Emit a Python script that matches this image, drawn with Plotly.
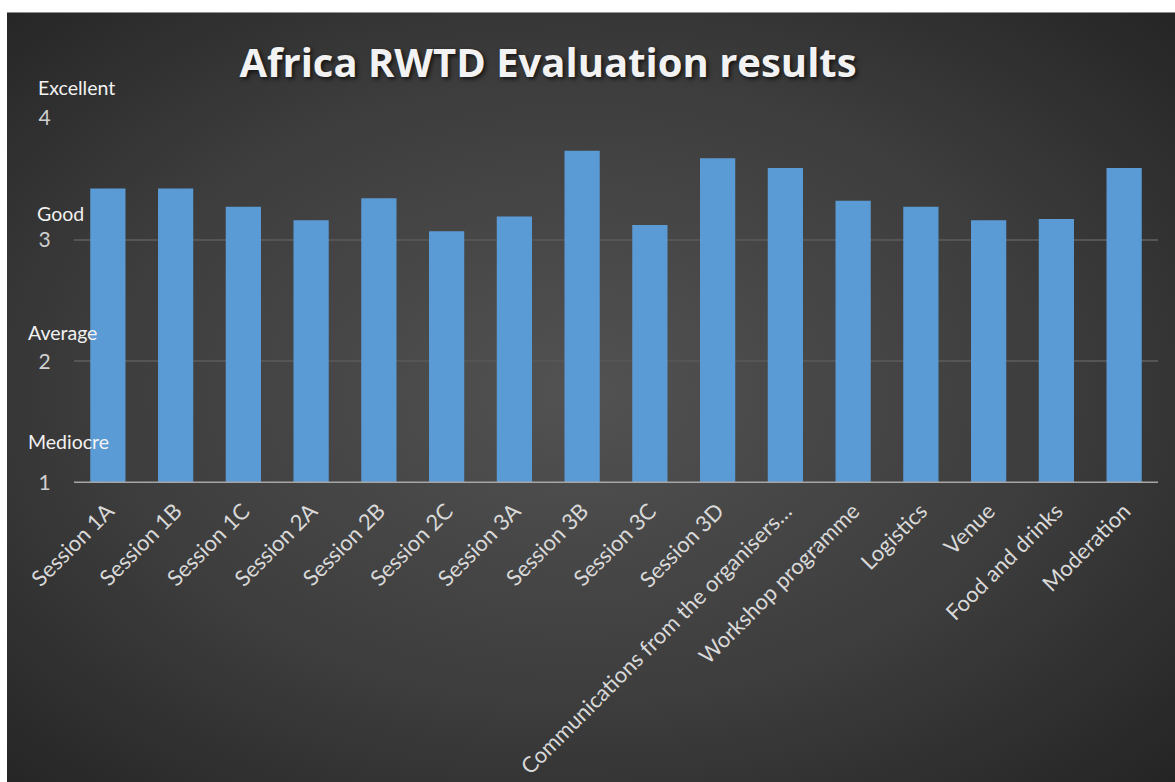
import base64
import plotly.graph_objects as go

categories = ["Session 1A", "Session 1B", "Session 1C", "Session 2A", "Session 2B",
              "Session 2C", "Session 3A", "Session 3B", "Session 3C", "Session 3D",
              "Communications from the organisers…", "Workshop programme", "Logistics",
              "Venue", "Food and drinks", "Moderation"]
scores = [3.42, 3.42, 3.27, 3.16, 3.34, 3.07, 3.19, 3.73, 3.12, 3.67,
          3.59, 3.32, 3.27, 3.16, 3.17, 3.59]
y_ticks = [1, 2, 3, 4]
level_names = ["Mediocre", "Average", "Good", "Excellent"]

W, H = 1175, 782
# plot-area pixel geometry
L, R, T, B = 74, 1158, 117.7, 482.7

svg = ('<svg xmlns="http://www.w3.org/2000/svg" width="1168" height="770" '
       'viewBox="0 0 1168 770" preserveAspectRatio="none"><defs>'
       '<radialGradient id="g" cx="0.48" cy="0.48" r="0.72">'
       '<stop offset="0" stop-color="#525252"/><stop offset="0.55" stop-color="#3d3d3d"/>'
       '<stop offset="1" stop-color="#232323"/></radialGradient></defs>'
       '<rect width="1168" height="770" fill="url(#g)"/></svg>')
src = "data:image/svg+xml;base64," + base64.b64encode(svg.encode()).decode()

pw, ph = R - L, B - T
def px(x):
    return (x - L) / pw
def py(y):
    return (B - y) / ph

fig = go.Figure()
fig.add_trace(go.Bar(
    x=categories, y=scores,
    marker=dict(color="#5b9bd5", line=dict(width=0)),
    hoverinfo="x+y",
))

fig.add_layout_image(dict(
    source=src, xref="paper", yref="paper",
    x=px(7), y=py(12), sizex=(W + 20 - 7) / pw, sizey=(H + 20 - 12) / ph,
    xanchor="left", yanchor="top", sizing="stretch", layer="below",
))

# level annotations (positions in pixel coordinates)
level_pos = {"Excellent": (36, 87), "Good": (35, 213), "Average": (26, 332), "Mediocre": (26, 441)}
for name in level_names:
    x0, y0 = level_pos[name]
    fig.add_annotation(text=name, xref="paper", yref="paper", x=px(x0), y=py(y0),
                       xanchor="left", yanchor="middle", showarrow=False,
                       font=dict(family="Lato", size=19.5, color="#f2f2f2"))

fig.update_layout(
    width=W, height=H,
    margin=dict(l=L, r=W - R, t=T, b=H - B, pad=0, autoexpand=False),
    paper_bgcolor="white",
    plot_bgcolor="rgba(0,0,0,0)",
    bargap=0.48,
    showlegend=False,
    title=dict(text="<b>Africa RWTD Evaluation results</b>", x=548 / W, xanchor="center",
               y=1 - 63 / H, yanchor="middle",
               font=dict(family="Open Sans", size=40, color="#f2f2f2",
                         shadow="2px 2px 4px rgba(0,0,0,0.7)")),
    xaxis=dict(tickangle=-45, tickfont=dict(family="Lato", size=22, color="#d9d9d9"),
               showgrid=False, showline=False, ticks="", zeroline=False,
               ticklabelstandoff=10, automargin=False),
    yaxis=dict(range=[1, 4], tickvals=y_ticks, ticktext=[str(v) for v in y_ticks],
               tickfont=dict(family="Lato", size=21, color="#d0d0d0"),
               showgrid=True, gridcolor="#555555", gridwidth=2,
               ticks="outside", ticklen=18, tickcolor="rgba(0,0,0,0)",
               zeroline=False, showline=False, automargin=False),
)
# baseline at y=1
fig.add_shape(type="line", xref="paper", yref="y", x0=0, x1=1, y0=1, y1=1,
              line=dict(color="#a6a6a6", width=3), layer="above")

fig.write_html("out.html", config={"displayModeBar": False},
               post_script="document.body.style.margin='0';document.body.style.overflow='hidden';")
